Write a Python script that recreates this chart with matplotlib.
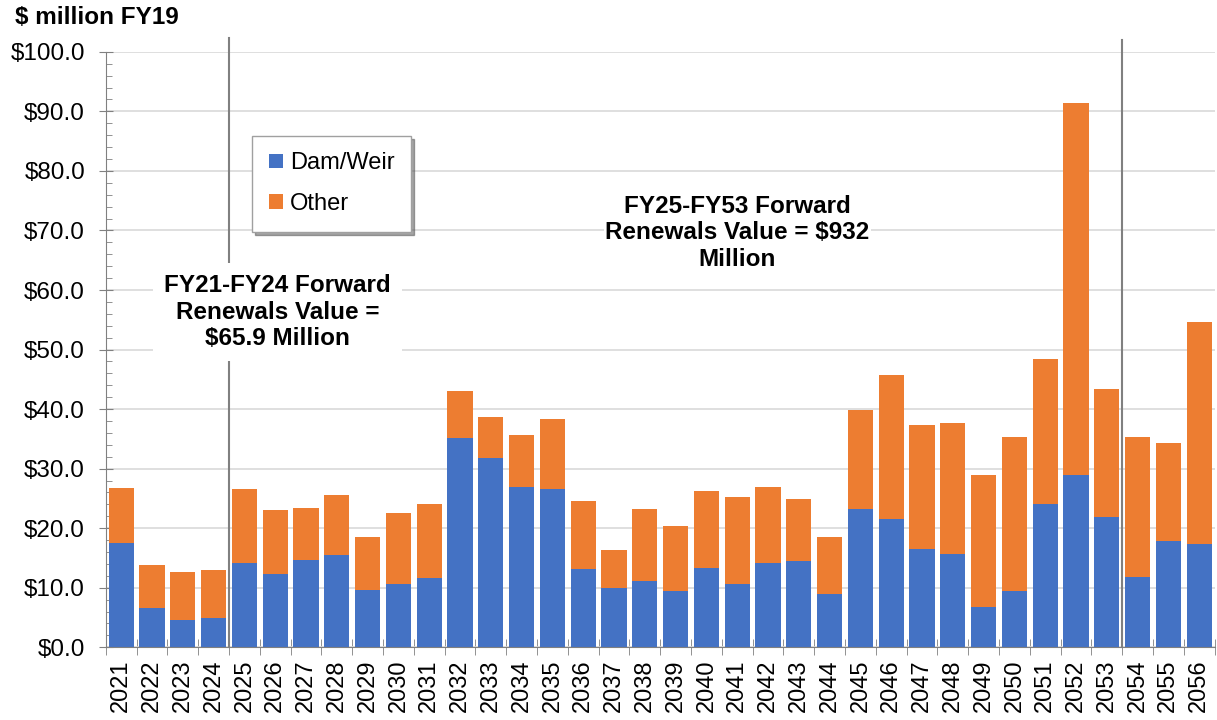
import matplotlib.pyplot as plt
import numpy as np

plt.rcParams['font.family'] = ['Liberation Sans', 'DejaVu Sans']

# Annual renewals, $ million FY19
years = list(range(2021, 2057))
dam_weir = [17.5, 6.6, 4.6, 4.9, 14.2, 12.3, 14.7, 15.5, 9.7, 10.7,
            11.6, 35.1, 31.8, 26.9, 26.6, 13.1, 9.9, 11.2, 9.5, 13.3,
            10.7, 14.1, 14.5, 8.9, 23.2, 21.5, 16.5, 15.7, 6.7, 9.4,
            24.0, 28.9, 21.8, 11.8, 17.8, 17.3]
totals = [26.7, 13.9, 12.7, 12.9, 26.5, 23.0, 23.4, 25.5, 18.5, 22.5,
          24.0, 43.0, 38.7, 35.7, 38.3, 24.5, 16.4, 23.2, 20.4, 26.3,
          25.2, 26.9, 24.9, 18.5, 39.8, 45.8, 37.3, 37.7, 29.0, 35.3,
          48.4, 91.4, 43.4, 35.3, 34.3, 54.6]
other = [t - d for t, d in zip(totals, dam_weir)]

blue = '#4472C4'
orange = '#ED7D31'
grey = '#808080'

fig = plt.figure(figsize=(12.17, 7.2), dpi=100)
ax = fig.add_axes([0.087, 0.101, 0.911, 0.827])

x = np.arange(len(years))
ax.bar(x, dam_weir, width=0.82, color=blue, label='Dam/Weir', zorder=2)
ax.bar(x, other, width=0.82, bottom=dam_weir, color=orange, label='Other', zorder=2)

ax.set_xlim(-0.5, len(years) - 0.5)
ax.set_ylim(0, 100)
ax.set_yticks(np.arange(0, 101, 10))
ax.set_yticklabels([f'${v:.1f}' for v in np.arange(0, 101, 10)], fontsize=17.5)
ax.set_yticks(np.arange(0, 101, 2), minor=True)
ax.set_xticks(x)
ax.set_xticklabels([str(y) for y in years], rotation=90, fontsize=17)
ax.set_xticks(np.arange(-0.5, len(years), 1), minor=True)

ax.tick_params(axis='x', which='major', length=0, pad=9)
ax.tick_params(axis='x', which='minor', length=12, direction='inout', color=grey)
ax.tick_params(axis='y', which='major', length=10, direction='inout', color=grey, pad=10)
ax.tick_params(axis='y', which='minor', length=4, direction='in', color=grey)

ax.grid(axis='y', color='#d9d9d9', linewidth=1.2, zorder=0)
ax.set_axisbelow(True)
for side in ['top', 'right']:
    ax.spines[side].set_visible(False)
for side in ['left', 'bottom']:
    ax.spines[side].set_color(grey)

# period separators
ax.axvline(3.5, ymin=0, ymax=1.024, color=grey, linewidth=1.5, clip_on=False, zorder=3)
ax.axvline(32.5, ymin=0, ymax=1.02, color=grey, linewidth=1.5, clip_on=False, zorder=3)

ax.text(5.08, 56.3, 'FY21-FY24 Forward\nRenewals Value =\n$65.9 Million',
        ha='center', va='center', fontsize=17.5, fontweight='bold', linespacing=1.2,
        bbox=dict(facecolor='white', edgecolor='none', pad=8), zorder=4)
ax.text(20.0, 69.6, 'FY25-FY53 Forward\nRenewals Value = $932\nMillion',
        ha='center', va='center', fontsize=17.5, fontweight='bold', linespacing=1.2,
        bbox=dict(facecolor='white', edgecolor='none', pad=1), zorder=4)

fig.text(0.012, 0.975, '$ million FY19', fontsize=17.5, fontweight='bold', va='center')

leg = ax.legend(loc='upper left', bbox_to_anchor=(0.132, 0.859), borderaxespad=0,
                fontsize=17, frameon=True, fancybox=False, shadow=True, edgecolor='#a0a0a0',
                handlelength=0.6, handleheight=0.6, handletextpad=0.3,
                labelspacing=0.8, borderpad=0.7)
leg.get_frame().set_linewidth(1.0)

fig.savefig('out.png', dpi=100)
